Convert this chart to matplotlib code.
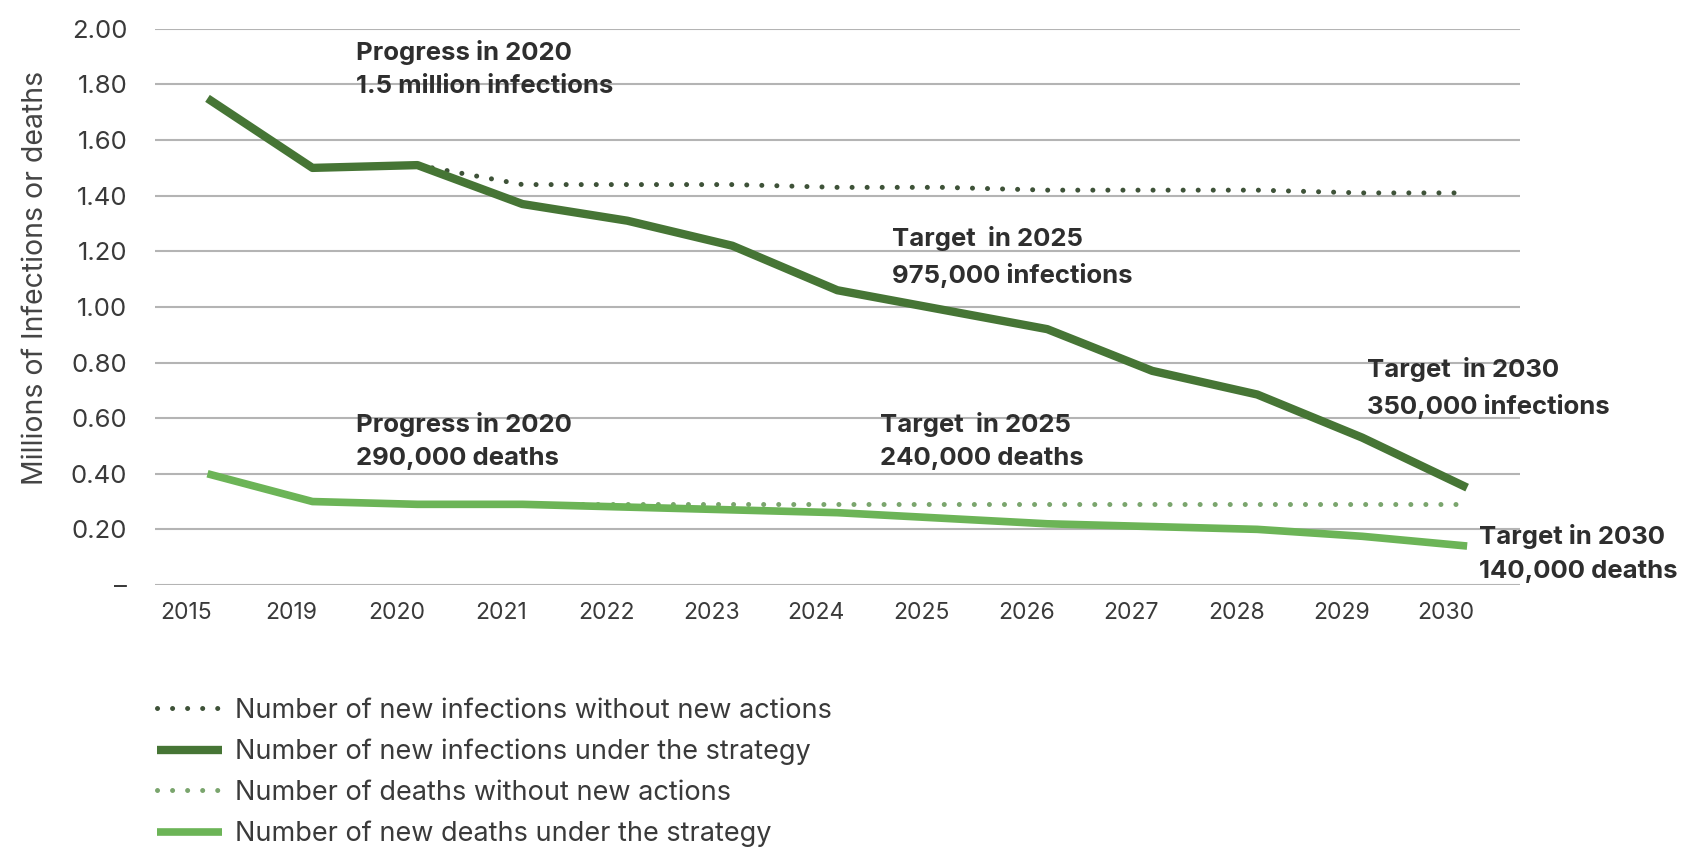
import matplotlib
matplotlib.use("Agg")
import matplotlib.pyplot as plt

plt.rcParams.update({
    "font.family": ["Inter", "DejaVu Sans"],
    "font.size": 15,
})

# ---- data (millions)
years = ["2015", "2019", "2020", "2021", "2022", "2023", "2024",
         "2025", "2026", "2027", "2028", "2029", "2030"]
inf_no_action = [1.75, 1.50, 1.51, 1.44, 1.44, 1.44, 1.43,
                 1.43, 1.42, 1.42, 1.42, 1.41, 1.41]
inf_strategy = [1.75, 1.50, 1.51, 1.37, 1.31, 1.22, 1.06,
                0.99, 0.92, 0.77, 0.685, 0.53, 0.35]
deaths_no_action = [0.40, 0.30, 0.29, 0.29, 0.29, 0.29, 0.29,
                    0.29, 0.29, 0.29, 0.29, 0.29, 0.29]
deaths_strategy = [0.40, 0.30, 0.29, 0.29, 0.28, 0.27, 0.26,
                   0.24, 0.22, 0.21, 0.20, 0.175, 0.14]
yticks = [0, 0.2, 0.4, 0.6, 0.8, 1.0, 1.2, 1.4, 1.6, 1.8, 2.0]
ytick_labels = ["–", "0.20", "0.40", "0.60", "0.80", "1.00",
                "1.20", "1.40", "1.60", "1.80", "2.00"]

DARK = "#467535"
DARK_DOT = "#3e5238"
LIGHT = "#6cb457"
LIGHT_DOT = "#7aa56d"
INK = "#2e2e2e"
GRID = "#b4b4b4"

fig = plt.figure(figsize=(16.96, 8.49), dpi=100)
ax = fig.add_axes([0.0914, 0.311, 0.8046, 0.655])
x = list(range(len(years)))

ax.plot(x[2:], inf_no_action[2:], color=DARK_DOT, lw=3.6, ls=(0, (0.01, 3.0)),
        dash_capstyle="round", label="Number of new infections without new actions",
        clip_on=False, zorder=3)
ax.plot(x, inf_strategy, color=DARK, lw=6.0, solid_joinstyle="round",
        solid_capstyle="butt", label="Number of new infections under the strategy",
        clip_on=False, zorder=4)
ax.plot(x[2:], deaths_no_action[2:], color=LIGHT_DOT, lw=3.6, ls=(0, (0.01, 3.0)),
        dash_capstyle="round", label="Number of deaths without new actions",
        clip_on=False, zorder=3)
ax.plot(x, deaths_strategy, color=LIGHT, lw=5.5, solid_joinstyle="round",
        solid_capstyle="butt", label="Number of new deaths under the strategy",
        clip_on=False, zorder=4)

ax.set_xlim(-0.5, 12.5)
ax.set_ylim(0, 2.0)
ax.set_yticks(yticks)
ax.set_yticklabels(ytick_labels)
ax.set_xticks([i - 0.2 for i in x])
ax.set_xticklabels(years)
ax.tick_params(axis="both", length=0, labelcolor="#3a3a3a")
ax.tick_params(axis="y", pad=20, labelsize=18.5)
ax.tick_params(axis="x", pad=12, labelsize=16.5)
ax.grid(axis="y", color=GRID, lw=1.5)
ax.set_axisbelow(True)
for s in ("top", "right", "bottom", "left"):
    ax.spines[s].set_visible(False)
ax.set_ylabel("Millions of Infections or deaths", fontsize=20.5, color="#444444")
ax.yaxis.set_label_coords(-0.078, 0.553)

# annotations (left x, vertical centre of the two-line block)
notes = [
    (1.41, 1.856, "Progress in 2020\n1.5 million infections"),
    (6.52, 1.179, "Target  in 2025\n975,000 infections"),
    (11.05, 0.710, "Target  in 2030\n350,000 infections"),
    (1.41, 0.518, "Progress in 2020\n290,000 deaths"),
    (6.41, 0.518, "Target  in 2025\n240,000 deaths"),
    (12.11, 0.113, "Target in 2030\n140,000 deaths"),
]
for nx, ny, txt in notes:
    ax.text(nx, ny, txt, fontsize=18.5, weight="bold", color=INK,
            ha="left", va="center", linespacing=1.6, clip_on=False)

fig.legend(loc="upper left", bbox_to_anchor=(0.086, 0.191), frameon=False,
           fontsize=19.5, handlelength=2.4, handletextpad=0.5, labelspacing=0.55,
           borderaxespad=0, labelcolor="#3a3a3a")

fig.savefig("out.png", dpi=100, facecolor="white")
